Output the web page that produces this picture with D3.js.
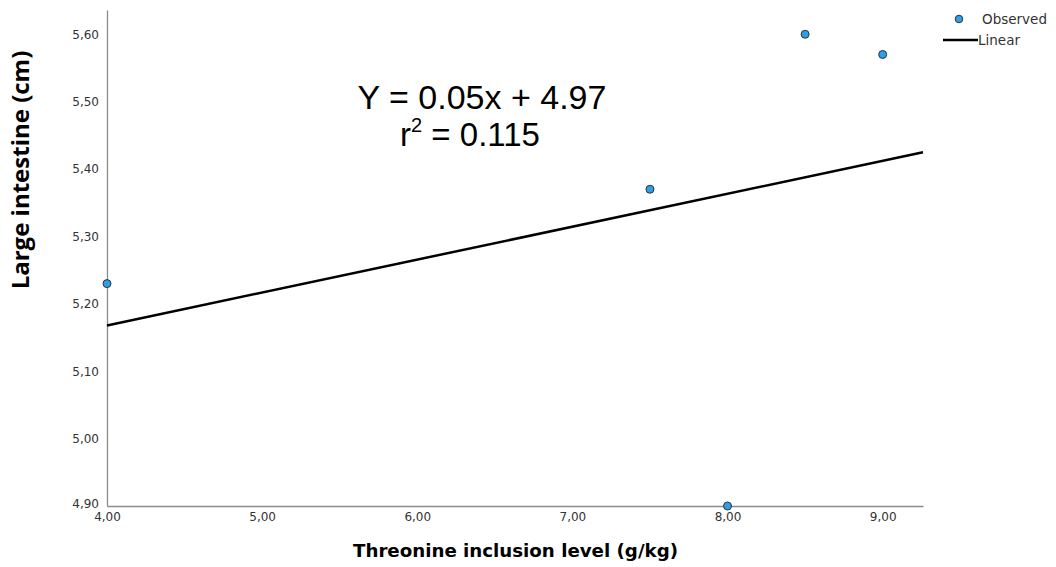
<!DOCTYPE html>
<html>
<head>
<meta charset="utf-8">
<script src="https://cdn.jsdelivr.net/npm/d3@7/dist/d3.min.js"></script>
<style>
  body { margin: 0; background: #fff; }
  text { font-family: "Liberation Sans", Arial, sans-serif; }
</style>
</head>
<body>
<div id="chart"></div>
<script>
// Threonine level vs large intestine length
var xValues = [4.0, 7.5, 8.0, 8.5, 9.0];
var yValues = [5.23, 5.37, 4.90, 5.60, 5.57];
var xTicks = [4, 5, 6, 7, 8, 9];
var yTicks = [4.9, 5.0, 5.1, 5.2, 5.3, 5.4, 5.5, 5.6];

var width = 1056, height = 567;
var margin = { top: 10, right: 133, bottom: 61, left: 107 };

var svg = d3.select("#chart").append("svg")
    .attr("width", width)
    .attr("height", height);

var xScale = d3.scaleLinear()
    .domain([4, 9.26])
    .range([margin.left, width - margin.right]);

var yScale = d3.scaleLinear()
    .domain([4.9, 5.636])
    .range([height - margin.bottom, margin.top]);

var comma = function(d) { return d3.format(".2f")(d).replace(".", ","); };

// least squares fit of the observed points
var mx = d3.mean(xValues), my = d3.mean(yValues);
var sxy = d3.sum(xValues, function(x, i) { return (x - mx) * (yValues[i] - my); });
var sxx = d3.sum(xValues, function(x) { return (x - mx) * (x - mx); });
var slope = sxy / sxx;
var intercept = my - slope * mx;

// axes
var xAxis = svg.append("g")
    .attr("transform", "translate(0," + yScale.range()[0] + ")")
    .call(d3.axisBottom(xScale).tickValues(xTicks).tickFormat(comma).tickSize(0).tickPadding(6));
var yAxis = svg.append("g")
    .attr("transform", "translate(" + margin.left + ",0)")
    .call(d3.axisLeft(yScale).tickValues(yTicks).tickFormat(comma).tickSize(0).tickPadding(8));

[xAxis, yAxis].forEach(function(ax) {
    ax.select(".domain").attr("stroke", "#8c8c8c").attr("stroke-width", 1.3);
    ax.selectAll("text").attr("fill", "#333").style("font-size", "12px")
        .style("font-family", "'DejaVu Sans', sans-serif");
});
yAxis.selectAll(".tick")
    .filter(function(d) { return d === 4.9; })
    .select("text").attr("dy", "0.1em");

// regression line
var xd = xScale.domain();
svg.append("line")
    .attr("x1", xScale(xd[0])).attr("y1", yScale(intercept + slope * xd[0]))
    .attr("x2", xScale(xd[1])).attr("y2", yScale(intercept + slope * xd[1]))
    .attr("stroke", "#000")
    .attr("stroke-width", 2.5);

// observed points
svg.selectAll(".pt")
    .data(xValues)
  .enter().append("circle")
    .attr("class", "pt")
    .attr("cx", function(d) { return xScale(d); })
    .attr("cy", function(d, i) { return yScale(yValues[i]); })
    .attr("r", 4)
    .attr("fill", "#2a9fea")
    .attr("stroke", "#333")
    .attr("stroke-width", 1);

// equation
svg.append("text")
    .attr("x", 482).attr("y", 109)
    .attr("text-anchor", "middle")
    .style("font-size", "34px")
    .text("Y = 0.05x + 4.97");
var r2 = svg.append("text")
    .attr("x", 470).attr("y", 146)
    .attr("text-anchor", "middle")
    .style("font-size", "33px");
r2.append("tspan").text("r");
r2.append("tspan").attr("dy", -14).style("font-size", "20px").text("2");
r2.append("tspan").attr("dy", 14).text(" = 0.115");

// axis titles
svg.append("text")
    .attr("x", 353).attr("y", 557)
    .attr("textLength", 325)
    .attr("lengthAdjust", "spacingAndGlyphs")
    .style("font-size", "17px")
    .style("font-weight", "bold")
    .style("font-family", "'DejaVu Sans', sans-serif")
    .text("Threonine inclusion level (g/kg)");
svg.append("text")
    .attr("transform", "translate(29,170) rotate(-90)")
    .attr("text-anchor", "middle")
    .style("font-size", "24px")
    .style("font-weight", "bold")
    .style("font-family", "'Open Sans', sans-serif")
    .text("Large intestine (cm)");

// legend
var legend = svg.append("g");
legend.append("circle")
    .attr("cx", 959).attr("cy", 19).attr("r", 3.8)
    .attr("fill", "#2a9fea").attr("stroke", "#333").attr("stroke-width", 1);
legend.append("text")
    .attr("x", 982).attr("y", 24)
    .style("font-size", "13.5px").attr("fill", "#333")
    .style("font-family", "'DejaVu Sans', sans-serif")
    .text("Observed");
legend.append("line")
    .attr("x1", 943).attr("x2", 978).attr("y1", 40).attr("y2", 40)
    .attr("stroke", "#000").attr("stroke-width", 2.5);
legend.append("text")
    .attr("x", 978).attr("y", 45)
    .style("font-size", "13.5px").attr("fill", "#333")
    .style("font-family", "'DejaVu Sans', sans-serif")
    .text("Linear");
</script>
</body>
</html>
